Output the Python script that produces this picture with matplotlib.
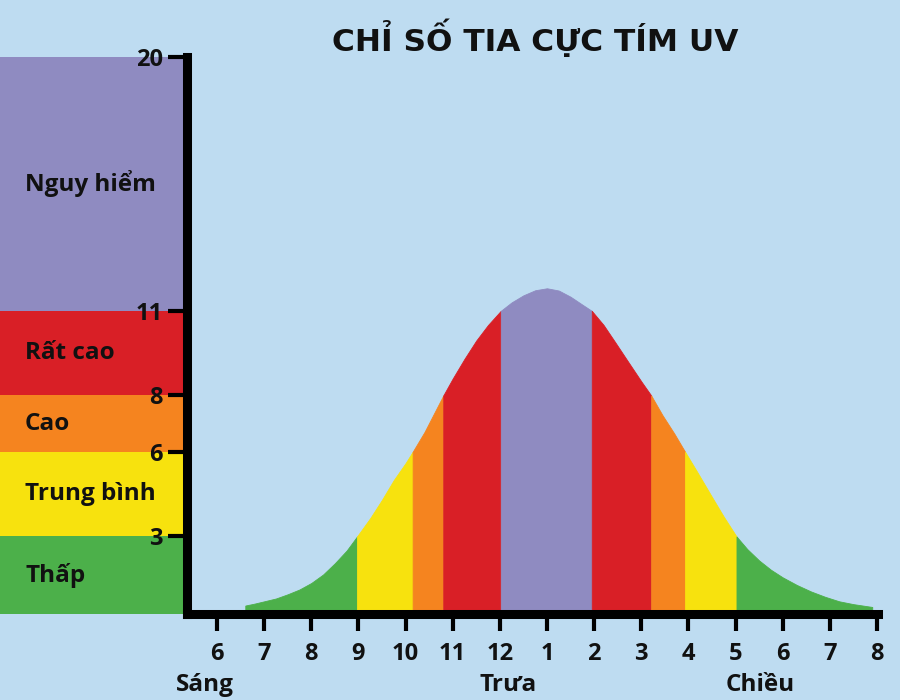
import matplotlib
matplotlib.use('Agg')
import matplotlib.pyplot as plt

# UV index over the day (hour of day, UV index)
hours = [6.6, 6.8, 7.0, 7.25, 7.5, 7.75, 8.0, 8.25, 8.5, 8.75, 8.97, 9.25, 9.5, 9.75, 10.0, 10.15,
         10.4, 10.6, 10.8, 11.0, 11.25, 11.5, 11.75, 12.02, 12.25, 12.5, 12.75, 13.0, 13.25, 13.5,
         13.75, 13.95, 14.2, 14.45, 14.72, 15.0, 15.21, 15.45, 15.7, 15.93, 16.2, 16.5, 16.75, 17.02,
         17.25, 17.5, 17.75, 18.0, 18.3, 18.6, 18.9, 19.2, 19.5, 19.9]
uv = [0.55, 0.62, 0.7, 0.8, 0.95, 1.12, 1.35, 1.65, 2.05, 2.5, 3.0, 3.65, 4.3, 5.0, 5.6, 6.0,
      6.7, 7.35, 8.0, 8.6, 9.3, 9.95, 10.5, 11.0, 11.3, 11.55, 11.73, 11.8, 11.72, 11.5,
      11.22, 11.0, 10.5, 9.88, 9.2, 8.5, 8.0, 7.3, 6.65, 6.0, 5.25, 4.4, 3.7, 3.0,
      2.55, 2.15, 1.82, 1.55, 1.28, 1.05, 0.86, 0.7, 0.6, 0.5]

# UV levels
levels = [0, 3, 6, 8, 11, 20]
level_names = ['Thấp', 'Trung bình', 'Cao', 'Rất cao', 'Nguy hiểm']
level_colors = ['#4cb04a', '#f7e20e', '#f5841f', '#d91f26', '#8f8bc1']

tick_hours = list(range(6, 21))
tick_labels = ['6', '7', '8', '9', '10', '11', '12', '1', '2', '3', '4', '5', '6', '7', '8']

part_names = ['Sáng', 'Trưa', 'Chiều']
part_hours = [5.75, 12.17, 17.52]

title = 'CHỈ SỐ TIA CỰC TÍM UV'

bg = '#bedcf1'
font = ['Open Sans', 'DejaVu Sans']
W, H = 900, 700
px_per_hour = 47.14  # 6h tick at 217px


def box(l, t, r, b):
    return [l / W, 1 - b / H, (r - l) / W, (b - t) / H]


def hour_at(px):
    return 6 + (px - 217) / px_per_hour


def level_of(v):
    k = 0
    while k + 1 < len(levels) - 1 and v >= levels[k + 1]:
        k += 1
    return k


ymin = 0.25
fig = plt.figure(figsize=(9, 7), dpi=100, facecolor=bg)

# colour scale panel on the left
band_ax = fig.add_axes(box(0, 57, 186.5, 614))
band_ax.set_xlim(0, 1)
band_ax.set_ylim(ymin, 20)
band_ax.axis('off')
for i in range(len(level_names)):
    lo = max(levels[i], ymin)
    band_ax.axhspan(lo, levels[i + 1], color=level_colors[i], lw=0)
    band_ax.text(25 / 186.5, (lo + levels[i + 1]) / 2, level_names[i], family=font,
                 fontsize=17.5, fontweight='bold', ha='left', va='center', color='#111111')

# main chart
ax = fig.add_axes(box(186.5, 57, 877.5, 614))
ax.set_facecolor('none')
ax.set_xlim(hour_at(186.5), hour_at(877.5))
ax.set_ylim(ymin, 20)

# fill the curve, one colour per UV level
seg = [level_of(min(uv[i], uv[i + 1])) for i in range(len(uv) - 1)]
start = 0
for i in range(1, len(seg) + 1):
    if i == len(seg) or seg[i] != seg[start]:
        c = level_colors[seg[start]]
        ax.fill_between(hours[start:i + 1], ymin, uv[start:i + 1], facecolor=c, edgecolor=c, lw=0.6)
        start = i

for s in ['top', 'right']:
    ax.spines[s].set_visible(False)
for s in ['left', 'bottom']:
    ax.spines[s].set_linewidth(6.5)
    ax.spines[s].set_color('black')

ax.set_yticks(levels[1:])
ax.set_yticklabels([str(v) for v in levels[1:]])
ax.set_xticks(tick_hours)
ax.set_xticklabels(tick_labels)
ax.tick_params(axis='y', direction='out', length=14, width=3, pad=3, labelsize=17)
ax.tick_params(axis='x', direction='out', length=12, width=3, pad=8, labelsize=17)
for lab in ax.get_xticklabels() + ax.get_yticklabels():
    lab.set_family(font)
    lab.set_fontweight('bold')
    lab.set_color('#111111')

for name, h in zip(part_names, part_hours):
    ax.text(h, -0.1275, name, transform=ax.get_xaxis_transform(), family=font,
            fontsize=17.5, fontweight='bold', ha='center', va='center', color='#111111')

fig.text(535 / W, 1 - 38 / H, title, family=['DejaVu Sans'], fontsize=22.5,
         fontweight='bold', ha='center', va='center', color='#111111')

fig.savefig('out.png', dpi=100, facecolor=bg)
